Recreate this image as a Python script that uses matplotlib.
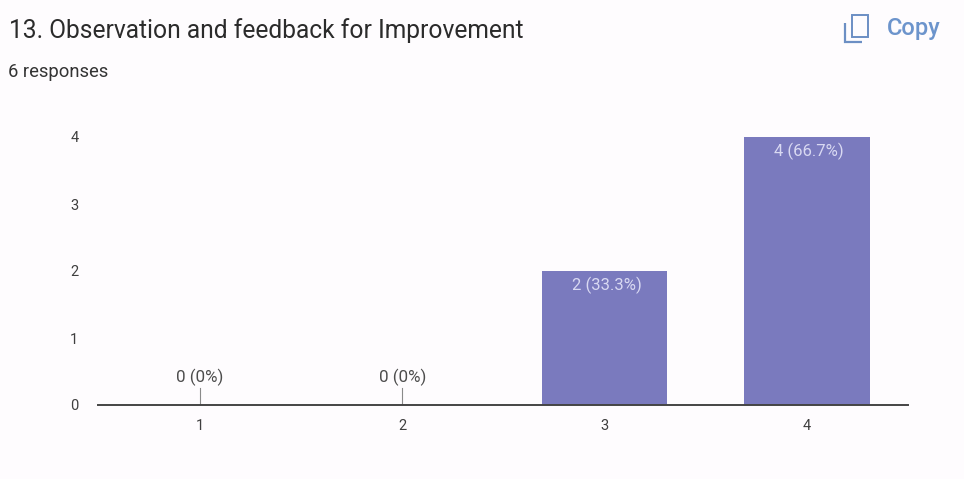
import matplotlib
matplotlib.use("Agg")
import matplotlib.pyplot as plt
from matplotlib.patches import Rectangle, PathPatch
from matplotlib.path import Path

categories = ["1", "2", "3", "4"]
counts = [0, 0, 2, 4]
labels = ["0 (0%)", "0 (0%)", "2 (33.3%)", "4 (66.7%)"]
y_ticks = [0, 1, 2, 3, 4]
title = "13. Observation and feedback for Improvement"
subtitle = "6 responses"

W, H = 964, 479
plt.rcParams["font.family"] = ["Roboto", "DejaVu Sans"]
BG = "#FEFCFE"
BAR = "#7A7ABE"
fig = plt.figure(figsize=(W / 100, H / 100), dpi=100, facecolor=BG)

ax_bottom = (H - 405) / H
ax_top = (H - 110) / H
ax = fig.add_axes([98 / W, ax_bottom, 810 / W, ax_top - ax_bottom], facecolor="none")

xs = list(range(1, len(categories) + 1))
ax.bar(xs, counts, width=0.62, color=BAR, linewidth=0, zorder=2)
ax.set_xlim(0.496, 4.5)
ax.set_ylim(0, 295 / 67)

for x, c, lab in zip(xs, counts, labels):
    if c == 0:
        ax.plot([x, x], [0, 0.25], color="#8A8A8A", lw=0.8, zorder=1)
        ax.text(x, 0.29, lab, ha="center", va="bottom", fontsize=12.2, color="#3A3A3A", alpha=0.9)
    else:
        ax.text(x + 0.01, c - 0.09, lab, ha="center", va="top", fontsize=12, color="#D9D9F2")

for s in ["top", "right", "left"]:
    ax.spines[s].set_visible(False)
ax.spines["bottom"].set_color("#444444")
ax.spines["bottom"].set_linewidth(1.4)
ax.set_xticks(xs, categories)
ax.set_yticks(y_ticks, [str(t) for t in y_ticks])
ax.tick_params(axis="both", length=0, labelsize=10.5, labelcolor="#3F3F3F")
ax.tick_params(axis="x", pad=10)
ax.tick_params(axis="y", pad=14)

fig.text(9 / W, 1 - 31 / H, title, fontsize=17.7, color="#2B2B2B", va="center", ha="left")
fig.text(8 / W, 1 - 72 / H, subtitle, fontsize=13.2, color="#333333", va="center", ha="left")
fig.text(887 / W, 1 - 29 / H, "Copy", fontsize=17, color="#6C94CC", va="center", ha="left", fontweight="medium")

# Copy icon, in pixel coordinates
trans = fig.transFigure
def px(x, y):
    return (x / W, 1 - y / H)
x0, y0 = px(852, 15)
x1, y1 = px(868, 37)
fig.add_artist(Rectangle((x0, y1), x1 - x0, y0 - y1, transform=trans, fill=False, ec="#6C8FC4", lw=1.4))
verts = [px(845, 23), px(845, 42), px(862, 42)]
fig.add_artist(PathPatch(Path(verts), transform=trans, fill=False, ec="#6C8FC4", lw=1.6))

fig.savefig("out.png", dpi=100, facecolor=BG)
